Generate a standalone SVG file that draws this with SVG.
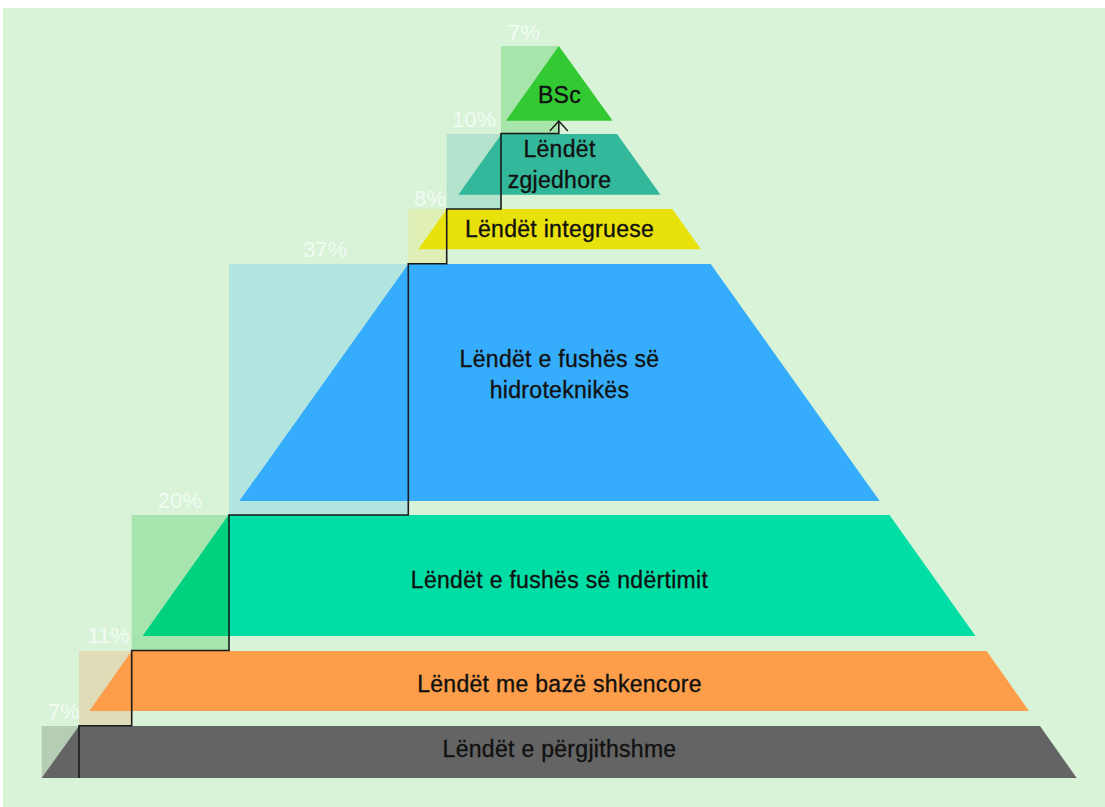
<svg xmlns="http://www.w3.org/2000/svg" width="1105" height="807" viewBox="0 0 1105 807">
<style>
.lbl{font-family:"Liberation Sans",Arial,sans-serif;font-size:23px;letter-spacing:0.3px;fill:#111;stroke:#111;stroke-width:0.35px;text-anchor:middle}
.pct{font-family:"Liberation Sans",Arial,sans-serif;font-size:22px;fill:#ffffff;fill-opacity:0.7;text-anchor:middle}
.conn{fill:none;stroke:#1a1a1a;stroke-width:1.6}
</style>
<defs>
<marker id="arr" viewBox="0 0 20 12" refX="10" refY="1" markerWidth="20" markerHeight="12" markerUnits="userSpaceOnUse" orient="0">
<path d="M1,11 L10,1 L19,11" fill="none" stroke="#1a1a1a" stroke-width="1.4"/>
</marker>
</defs>
<rect x="0" y="0" width="1105" height="807" fill="#ffffff"/>
<rect x="3" y="8" width="1102" height="799" fill="#d8f3d8"/>

<g id="layer-general">
<rect x="41.7" y="726" width="37.3" height="52" fill="#b4cdb4"/>
<polygon points="79,726 1040,726 1076.7,778 41.7,778" fill="#646464"/>
<text class="lbl" x="559.5" y="756.7">Lëndët e përgjithshme</text>
<text class="pct" x="64" y="719.3">7%</text>
</g>

<g id="layer-science">
<rect x="79" y="651" width="52.7" height="75" fill="#dfdcb7"/>
<polygon points="131.7,651 986.7,651 1029,711 89.3,711" fill="#fe9e4a"/>
<text class="lbl" x="559.5" y="691.7">Lëndët me bazë shkencore</text>
<text class="pct" x="108.7" y="643.3">11%</text>
</g>

<g id="layer-construction">
<rect x="131.7" y="515" width="97.3" height="136" fill="#a6e5ae"/>
<polygon points="228.7,515 889.5,515 975.5,636 142.7,636" fill="#00dea6"/>
<polygon points="228.7,515 228.7,636 142.7,636" fill="#00d17f"/>
<text class="lbl" x="559.5" y="587.7">Lëndët e fushës së ndërtimit</text>
<text class="pct" x="179.7" y="507.7">20%</text>
</g>

<g id="layer-hydro">
<rect x="229" y="264" width="179.3" height="251" fill="#b3e5e0"/>
<polygon points="408.3,264 710.7,264 879.7,501 239.3,501" fill="#36adfc"/>
<text class="lbl" x="559.5" y="366.7">Lëndët e fushës së</text>
<text class="lbl" x="559.5" y="398.3">hidroteknikës</text>
<text class="pct" x="325" y="256.7">37%</text>
</g>

<g id="layer-integrating">
<rect x="408.3" y="209" width="38.4" height="55" fill="#dfefb5"/>
<polygon points="446.7,209 672.3,209 701,249.3 418.3,249.3" fill="#e8e10c"/>
<text class="lbl" x="559.5" y="237">Lëndët integruese</text>
<text class="pct" x="430" y="206">8%</text>
</g>

<g id="layer-elective">
<rect x="446.7" y="134" width="54.8" height="75" fill="#b3e3cc"/>
<polygon points="501.5,134 617,134 660.5,194.7 458.3,194.7" fill="#33b89b"/>
<text class="lbl" x="559.5" y="157.3">Lëndët</text>
<text class="lbl" x="559.5" y="188.3">zgjedhore</text>
<text class="pct" x="474" y="126.7">10%</text>
</g>

<g id="layer-bsc">
<rect x="501" y="46" width="57.8" height="88" fill="#a7e5ab"/>
<polygon points="558.8,46 612.7,120.7 506,120.7" fill="#33c933"/>
<text class="lbl" x="559.5" y="102.7">BSc</text>
<text class="pct" x="524" y="40">7%</text>
</g>

<g id="connectors">
<polyline class="conn" points="79,778 79,725.7 131.7,725.7 131.7,650.5 229,650.5 229,515 408.3,515 408.3,263.7 446.7,263.7 446.7,209 501,209 501,133.5 558.8,133.5 558.8,121" marker-end="url(#arr)"/>
</g>
</svg>
